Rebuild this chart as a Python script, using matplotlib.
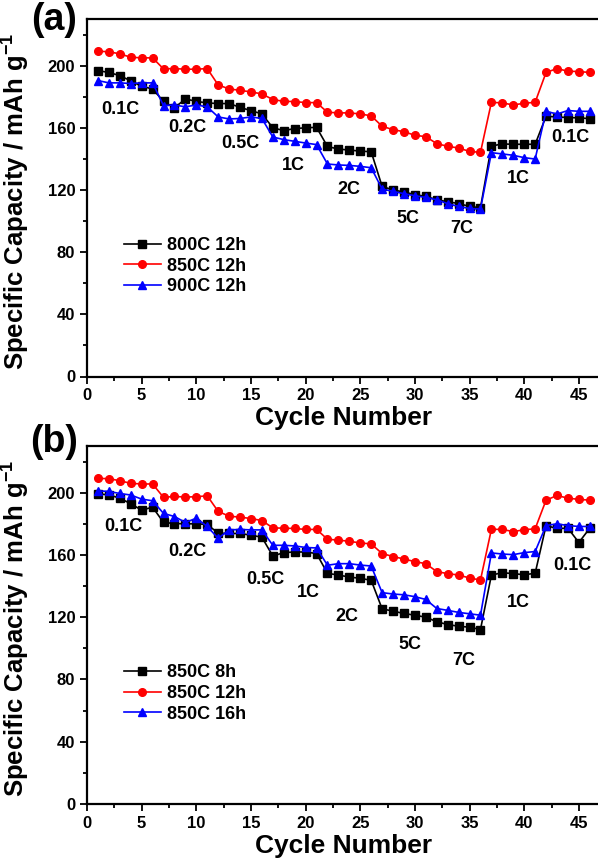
import matplotlib
matplotlib.use("Agg")
import matplotlib.pyplot as plt
from matplotlib.ticker import MultipleLocator

plt.rcParams['font.family'] = ['Liberation Sans', 'DejaVu Sans']
plt.rcParams['font.weight'] = 'bold'
plt.rcParams['axes.labelweight'] = 'bold'
plt.rcParams['mathtext.fontset'] = 'custom'
plt.rcParams['mathtext.rm'] = 'Liberation Sans:bold'
plt.rcParams['mathtext.bf'] = 'Liberation Sans:bold'
plt.rcParams['mathtext.default'] = 'bf'

cycles = list(range(1, 47))

# Panel (a)
a_labels = ["800C 12h", "850C 12h", "900C 12h"]
a_800 = [196.8, 195.6, 193.6, 190.2, 186.7, 185.0, 177.0, 172.8, 178.6, 177.0, 176.0,
         175.6, 175.6, 173.2, 171.0, 169.0, 160.0, 158.2, 159.5, 160.0, 160.3,
         148.0, 146.3, 145.7, 145.0, 144.6, 122.3, 120.0, 118.7, 117.0, 115.9,
         113.7, 112.4, 111.3, 109.4, 108.6, 148.3, 149.6, 149.4, 149.4, 149.4,
         167.4, 167.0, 166.6, 166.4, 165.9]
a_850 = [209.3, 208.9, 207.6, 205.4, 205.0, 205.0, 197.9, 198.1, 197.7, 197.7, 198.1,
         187.6, 185.0, 184.1, 183.1, 181.8, 178.2, 177.0, 176.9, 176.2, 176.2,
         170.0, 169.6, 169.6, 168.9, 167.7, 161.0, 158.8, 157.5, 155.2, 154.3,
         149.8, 148.1, 147.0, 144.8, 144.2, 176.4, 176.0, 174.7, 175.8, 176.4,
         195.6, 198.1, 196.4, 196.2, 195.6]
a_900 = [190.4, 188.9, 188.9, 188.5, 188.9, 188.9, 174.3, 174.7, 173.5, 174.7, 173.5,
         167.0, 165.7, 166.0, 167.0, 166.0, 154.1, 152.4, 151.3, 150.2, 149.2,
         136.7, 136.1, 135.8, 135.2, 134.3, 120.6, 119.1, 117.6, 116.3, 115.2,
         113.7, 111.2, 109.4, 108.1, 107.7, 144.0, 143.2, 142.3, 140.8, 139.9,
         170.6, 168.9, 171.1, 170.6, 170.6]

# Panel (b)
b_labels = ["850C 8h", "850C 12h", "850C 16h"]
b_8h = [199.3, 198.6, 196.5, 192.9, 188.8, 190.7, 180.9, 180.2, 180.0, 180.0, 179.6,
        174.0, 173.8, 173.8, 172.7, 171.4, 159.3, 161.5, 161.9, 161.9, 160.9,
        148.2, 147.1, 145.8, 145.0, 143.7, 125.4, 123.9, 122.4, 121.3, 120.0,
        117.1, 115.3, 114.2, 113.6, 112.1, 147.1, 148.6, 148.0, 147.3, 148.2,
        178.9, 177.0, 177.2, 168.0, 177.2]
b_12h = [209.2, 209.0, 207.7, 206.0, 205.6, 205.6, 197.0, 197.6, 197.2, 197.4, 198.0,
         188.0, 184.9, 184.3, 183.4, 182.1, 177.4, 177.2, 177.0, 176.4, 176.4,
         170.1, 169.5, 168.8, 167.7, 167.1, 160.9, 159.0, 157.4, 155.7, 154.4,
         149.3, 148.0, 147.1, 145.2, 143.9, 176.5, 176.4, 175.0, 176.2, 176.8,
         195.2, 198.2, 196.5, 195.7, 195.2]
b_16h = [201.2, 200.8, 199.5, 198.5, 195.9, 194.8, 186.7, 184.7, 180.9, 183.6, 178.3,
         170.7, 176.1, 176.4, 176.1, 176.1, 166.2, 166.2, 165.8, 164.8, 164.5,
         153.4, 154.4, 154.4, 153.5, 152.9, 135.8, 134.9, 134.4, 133.2, 131.4,
         125.6, 124.4, 123.1, 122.2, 121.3, 161.3, 160.6, 160.2, 161.5, 162.2,
         178.9, 180.0, 178.9, 178.3, 178.3]

rate_texts = ["0.1C", "0.2C", "0.5C", "1C", "2C", "5C", "7C", "1C", "0.1C"]
a_rate_x = [3.08, 9.21, 14.0, 18.85, 23.97, 29.34, 34.3, 39.43, 44.19]
a_rate_y = [171.7, 160.3, 149.8, 135.8, 120.2, 101.5, 95.5, 127.7, 153.8]
b_rate_x = [3.32, 9.21, 16.29, 20.25, 23.8, 29.55, 34.5, 39.46, 44.4]
b_rate_y = [178.2, 162.3, 144.3, 135.7, 120.3, 102.4, 92.2, 129.7, 153.4]

colors = ["#000000", "#FF0000", "#0000FF"]
markers = ["s", "o", "^"]

W, H = 598, 859
fig = plt.figure(figsize=(W / 100, H / 100), dpi=100)

left = 87 / W
width = 47 * 10.93 / W
ax_a = fig.add_axes([left, 1 - 376.5 / H, width, 357.5 / H])
ax_b = fig.add_axes([left, 1 - 804 / H, width, 358 / H])


def draw(ax, series, labels, rx, ry, tag, tag_y):
    for s, lab, c, m in zip(series, labels, colors, markers):
        ax.plot(cycles, s, color=c, marker=m, markersize=5.5, linewidth=1.2,
                label=lab, markeredgecolor=c)
    for t, x, y in zip(rate_texts, rx, ry):
        ax.text(x, y, t, ha='center', va='center', fontsize=13, fontweight='bold')
    ax.set_xlim(0, 47)
    ax.set_ylim(0, 230)
    ax.xaxis.set_major_locator(MultipleLocator(5))
    ax.xaxis.set_minor_locator(MultipleLocator(2.5))
    ax.yaxis.set_major_locator(MultipleLocator(40))
    ax.yaxis.set_minor_locator(MultipleLocator(20))
    ax.tick_params(which='both', direction='out', width=1.3, labelsize=12)
    ax.tick_params(which='major', length=5)
    ax.tick_params(which='minor', length=3)
    for lbl in ax.get_xticklabels() + ax.get_yticklabels():
        lbl.set_fontweight('bold')
    for sp in ax.spines.values():
        sp.set_linewidth(1.6)
    ax.set_xlabel("Cycle Number", fontsize=19, fontweight='bold', labelpad=2)
    ax.set_ylabel("Specific Capacity / mAh g$^{-1}$", fontsize=18.5,
                  fontweight='bold', labelpad=0)
    ax.yaxis.set_label_coords(-0.108, 0.49)
    leg = ax.legend(loc='upper left', bbox_to_anchor=(0.072, 0.39), frameon=False,
                    fontsize=13, handlelength=2.05, handletextpad=0.32,
                    labelspacing=0.2, borderpad=0, borderaxespad=0)
    for t in leg.get_texts():
        t.set_fontweight('bold')
    ax.text(-0.064, tag_y, tag, transform=ax.transAxes, fontsize=27,
            fontweight='bold', ha='center', va='center')


draw(ax_a, [a_800, a_850, a_900], a_labels, a_rate_x, a_rate_y, "(a)", 0.997)
draw(ax_b, [b_8h, b_12h, b_16h], b_labels, b_rate_x, b_rate_y, "(b)", 1.011)

fig.savefig("out.png", dpi=100)
